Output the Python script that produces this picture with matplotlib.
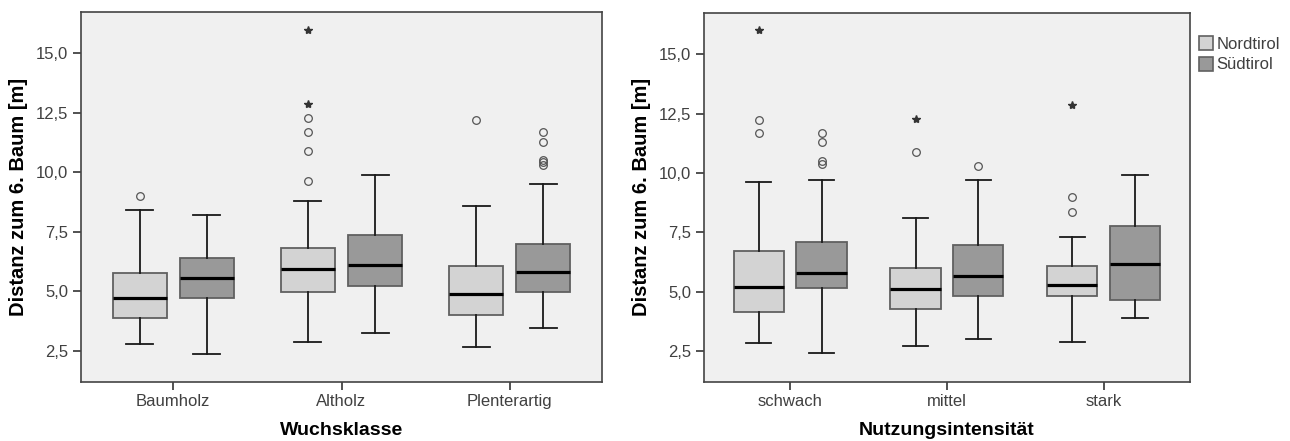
import matplotlib
matplotlib.use("Agg")
import matplotlib.pyplot as plt
from matplotlib.patches import Patch
from matplotlib.ticker import FuncFormatter, FixedLocator

# data (quartiles, whiskers, outliers, extremes)
wuchs_cats = ["Baumholz", "Altholz", "Plenterartig"]
nutz_cats = ["schwach", "mittel", "stark"]
groups = ["Nordtirol", "Südtirol"]

wuchs_nord_q1 = [3.88, 4.99, 3.99]
wuchs_nord_med = [4.73, 5.95, 4.87]
wuchs_nord_q3 = [5.76, 6.83, 6.05]
wuchs_nord_lo = [2.77, 2.87, 2.67]
wuchs_nord_hi = [8.40, 8.79, 8.58]
wuchs_nord_out = [[8.99], [9.63, 10.88, 11.70, 12.30], [12.21]]
wuchs_nord_ext = [[], [12.89, 16.0], []]

wuchs_sued_q1 = [4.73, 5.24, 4.99]
wuchs_sued_med = [5.56, 6.10, 5.79]
wuchs_sued_q3 = [6.38, 7.37, 6.98]
wuchs_sued_lo = [2.37, 3.23, 3.47]
wuchs_sued_hi = [8.19, 9.90, 9.49]
wuchs_sued_out = [[], [], [10.29, 10.42, 10.53, 11.29, 11.70]]
wuchs_sued_ext = [[], [], []]

nutz_nord_q1 = [4.14, 4.28, 4.80]
nutz_nord_med = [5.20, 5.10, 5.29]
nutz_nord_q3 = [6.70, 6.00, 6.08]
nutz_nord_lo = [2.81, 2.70, 2.89]
nutz_nord_hi = [9.62, 8.08, 7.28]
nutz_nord_out = [[11.69, 12.21], [10.88], [8.33, 8.99]]
nutz_nord_ext = [[16.0], [12.29], [12.88]]

nutz_sued_q1 = [5.14, 4.82, 4.63]
nutz_sued_med = [5.80, 5.65, 6.14]
nutz_sued_q3 = [7.09, 6.98, 7.74]
nutz_sued_lo = [2.40, 2.99, 3.89]
nutz_sued_hi = [9.69, 9.69, 9.90]
nutz_sued_out = [[10.39, 10.51, 11.29, 11.69], [10.29], []]
nutz_sued_ext = [[], [], []]

yticks = [2.5, 5.0, 7.5, 10.0, 12.5, 15.0]

# style
fill_colors = ["#d3d3d3", "#999999"]
edge_col = "#606060"
narrow = ["Liberation Sans Narrow", "Liberation Sans", "DejaVu Sans"]
bold = ["Liberation Sans", "DejaVu Sans"]
tick_col = "#404040"
offsets = [-0.2, 0.2]
box_w = 0.32


def make_stats(q1, med, q3, lo, hi, out):
    stats = []
    for i in range(len(q1)):
        stats.append(dict(q1=q1[i], med=med[i], q3=q3[i], whislo=lo[i], whishi=hi[i], fliers=out[i]))
    return stats


def draw_panel(ax, cats, series, xlabel):
    ax.set_facecolor("#f0f0f0")
    for k, (stats, ext) in enumerate(series):
        pos = [i + offsets[k] for i in range(len(cats))]
        ax.bxp(stats, positions=pos, widths=box_w, patch_artist=True, manage_ticks=False,
               boxprops=dict(facecolor=fill_colors[k], edgecolor=edge_col, linewidth=1.3),
               medianprops=dict(color="black", linewidth=2.3, solid_capstyle="butt"),
               whiskerprops=dict(color="#1a1a1a", linewidth=1.3),
               capprops=dict(color="#1a1a1a", linewidth=1.3),
               capwidths=box_w / 2,
               flierprops=dict(marker="o", markerfacecolor="none", markeredgecolor="#555555",
                               markersize=5.5, markeredgewidth=0.9))
        # extreme values (SPSS stars)
        for i, vals in enumerate(ext):
            ax.plot([pos[i]] * len(vals), vals, linestyle="none", marker="*",
                    color="#333333", markersize=6)
    ax.set_xlim(-0.55, 2.55)
    ax.set_ylim(1.2, 16.75)
    ax.xaxis.set_major_locator(FixedLocator(range(len(cats))))
    ax.set_xticklabels(cats, family=narrow, fontsize=12, color=tick_col)
    ax.set_yticks(yticks)
    ax.yaxis.set_major_formatter(FuncFormatter(lambda v, p: ("%.1f" % v).replace(".", ",")))
    for lab in ax.get_yticklabels():
        lab.set_family(narrow)
        lab.set_fontsize(12)
        lab.set_color(tick_col)
    ax.tick_params(axis="both", length=6, width=1.2, color="#333333", pad=3)
    ax.set_ylabel("Distanz zum 6. Baum [m]", family=bold, fontweight="bold", fontsize=14.5, labelpad=6)
    ax.set_xlabel(xlabel, family=bold, fontweight="bold", fontsize=14, labelpad=9)
    for s in ax.spines.values():
        s.set_color("#444444")
        s.set_linewidth(1.2)


fig = plt.figure(figsize=(12.9, 4.41), dpi=100)
ax1 = fig.add_axes([0.0626, 0.1345, 0.4043, 0.839])
ax2 = fig.add_axes([0.5457, 0.1345, 0.3767, 0.8367])

draw_panel(ax1, wuchs_cats, [
    (make_stats(wuchs_nord_q1, wuchs_nord_med, wuchs_nord_q3, wuchs_nord_lo, wuchs_nord_hi, wuchs_nord_out), wuchs_nord_ext),
    (make_stats(wuchs_sued_q1, wuchs_sued_med, wuchs_sued_q3, wuchs_sued_lo, wuchs_sued_hi, wuchs_sued_out), wuchs_sued_ext),
], "Wuchsklasse")

draw_panel(ax2, nutz_cats, [
    (make_stats(nutz_nord_q1, nutz_nord_med, nutz_nord_q3, nutz_nord_lo, nutz_nord_hi, nutz_nord_out), nutz_nord_ext),
    (make_stats(nutz_sued_q1, nutz_sued_med, nutz_sued_q3, nutz_sued_lo, nutz_sued_hi, nutz_sued_out), nutz_sued_ext),
], "Nutzungsintensität")

handles = [Patch(facecolor=fill_colors[k], edgecolor=edge_col, linewidth=1.2) for k in range(2)]
fig.legend(handles, groups, loc="upper left", bbox_to_anchor=(0.9295, 0.918), frameon=False,
           prop=dict(family=narrow, size=12), handlelength=0.85, handleheight=0.9,
           handletextpad=0.2, labelspacing=0.3, borderpad=0, borderaxespad=0, labelcolor=tick_col)

fig.savefig("out.png", dpi=100)
